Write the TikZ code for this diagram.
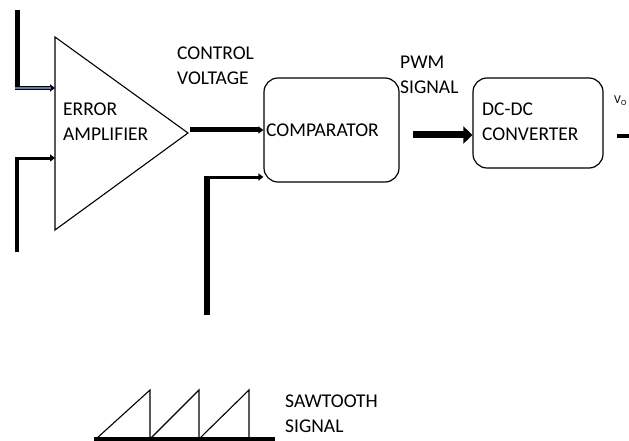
\documentclass[tikz,border=0pt]{standalone}
\usepackage{fontspec}
\setmainfont{Carlito}
\usetikzlibrary{arrows.meta}
\definecolor{inblue}{RGB}{79,129,189}
\begin{document}
\begin{tikzpicture}[x=1pt,y=-1pt,
  lbl/.style={inner sep=0pt,anchor=west,align=left,font=\fontsize{19.5}{25}\selectfont},
  box/.style={draw,line width=1.2pt,rounded corners=14pt,inner sep=0pt},
  arr/.style={-{Triangle[length=5pt,width=7pt]}},
]
\useasboundingbox (0,0) rectangle (629,441);
% error amplifier
\coordinate (ta) at (55,37);
\coordinate (tb) at (55,230);
\coordinate (tc) at (188,133);
\draw[line width=1.1pt] (ta) -- (tc) -- (tb) -- cycle;
\node[lbl] (amptxt) at (63,122) {ERROR\\AMPLIFIER};
% left inputs
\coordinate (in1top) at (17,10);
\coordinate (in1) at (17,88);
\coordinate (amp1) at (55,88);
\coordinate (in2bot) at (17,252);
\coordinate (in2) at (17,158);
\coordinate (amp2) at (55,158);
\draw[line width=5pt] (in1top) -- ([yshift=-1pt]in1);
\draw[line width=3.2pt, arr] ([xshift=-2.5pt]in1) -- (amp1);
\draw[line width=1.6pt, inblue, shorten >=4pt] ([xshift=-2pt]in1) -- (amp1);
\draw[line width=3.5pt] (in2bot) -- ([yshift=-1.5pt]in2);
\draw[line width=3pt, arr] ([xshift=-1.75pt]in2) -- (amp2);
% comparator
\node[box, minimum width=135pt, minimum height=104pt] (comp) at (331.5,130) {};
\node[lbl] (comptxt) at (266,130) {COMPARATOR};
\draw[line width=5pt, arr] (tc) ++(2,-3) coordinate (ampout) -- (comp.west |- ampout);
\node[lbl] (cv) at (177,66) {CONTROL\\VOLTAGE};
% sawtooth input to comparator
\coordinate (stbot) at (207,315);
\coordinate (stin) at (207,177);
\draw[line width=6pt] (stbot) -- ([yshift=-1.5pt]stin);
\draw[line width=3pt, arr] ([xshift=-3pt]stin) -- (comp.west |- stin);
% PWM
\node[lbl] (pwm) at (400,75) {PWM\\SIGNAL};
\node[box, minimum width=130pt, minimum height=90pt] (dcdc) at (538,123) {};
\node[lbl] (dctxt) at (482,122) {DC-DC\\CONVERTER};
\coordinate (pwmst) at (413,135);
\draw[line width=7pt, -{Triangle[length=9pt,width=17pt]}] (pwmst) -- (dcdc.west |- pwmst);
% output
\node[inner sep=0pt, anchor=west, font=\fontsize{12}{14}\selectfont] (vo) at (614,101) {V\textsubscript{O}};
\coordinate (outend) at (629,136);
\draw[line width=4pt] (617,136) -- (outend);
% sawtooth signal
\coordinate (s0) at (94,439);
\coordinate (s4) at (275,439);
\draw[line width=3.5pt] (s0) -- (s4);
\draw[line width=1.1pt] (96,439) -- (150,390) -- (150,439) -- (199,390) -- (199,439) -- (249,390) -- (249,439);
\node[lbl] (sawtxt) at (285,414) {SAWTOOTH\\SIGNAL};
\end{tikzpicture}
\end{document}
